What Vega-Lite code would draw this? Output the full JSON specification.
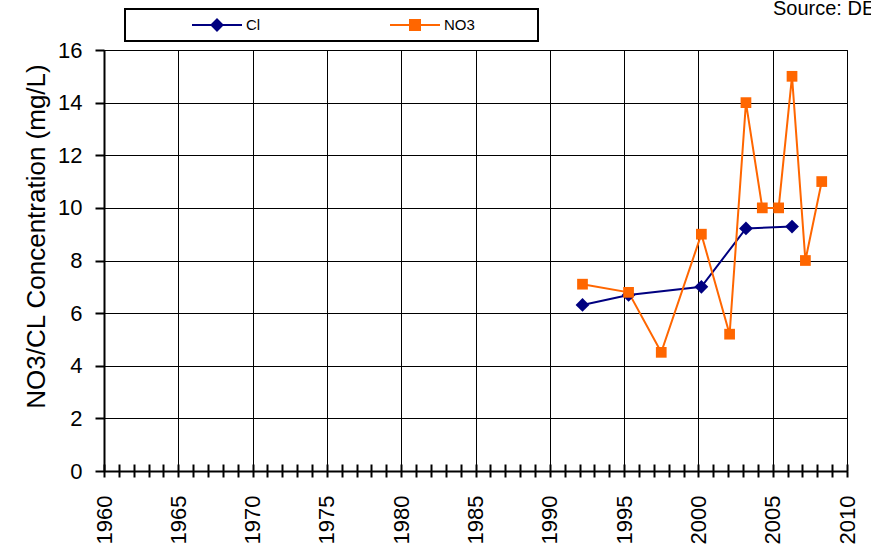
{
  "$schema": "https://vega.github.io/schema/vega-lite/v6.json",
  "width": 743,
  "height": 421,
  "autosize": {"type": "none"},
  "padding": {"left": 104, "top": 50, "right": 24, "bottom": 78},
  "background": "white",
  "config": {"view": {"stroke": "black", "strokeWidth": 1}, "font": "Liberation Sans"},
  "title": {"text": "Source: DEP", "anchor": "start", "frame": "group", "dx": 669, "offset": 0, "dy": 27, "baseline": "alphabetic", "fontSize": 20, "fontWeight": "normal", "color": "black", "font": "Liberation Sans"},
  "data": {"values": [
    {"series": "Cl", "year": 1992.2, "value": 6.31},
    {"series": "Cl", "year": 1995.3, "value": 6.69},
    {"series": "Cl", "year": 2000.2, "value": 7.0},
    {"series": "Cl", "year": 2003.2, "value": 9.22},
    {"series": "Cl", "year": 2006.3, "value": 9.29},
    {"series": "NO3", "year": 1992.2, "value": 7.1},
    {"series": "NO3", "year": 1995.3, "value": 6.79},
    {"series": "NO3", "year": 1997.5, "value": 4.51},
    {"series": "NO3", "year": 2000.2, "value": 9.0},
    {"series": "NO3", "year": 2002.1, "value": 5.2},
    {"series": "NO3", "year": 2003.2, "value": 14.0},
    {"series": "NO3", "year": 2004.3, "value": 10.0},
    {"series": "NO3", "year": 2005.4, "value": 10.0},
    {"series": "NO3", "year": 2006.3, "value": 15.0},
    {"series": "NO3", "year": 2007.2, "value": 8.0},
    {"series": "NO3", "year": 2008.3, "value": 11.0}
  ]},
  "encoding": {
    "y": {
      "field": "value", "type": "quantitative",
      "scale": {"domain": [0, 16], "nice": false},
      "axis": {
        "title": "NO3/CL Concentration (mg/L)",
        "values": [0, 2, 4, 6, 8, 10, 12, 14, 16],
        "grid": true, "gridColor": "black", "gridWidth": 1,
        "tickSize": 9, "tickColor": "black", "tickWidth": 2,
        "labelFontSize": 22, "labelPadding": 13, "labelColor": "black", "labelFont": "Liberation Sans",
        "titleFontSize": 26, "titleFontWeight": "normal", "titleColor": "black", "titleFont": "Liberation Sans", "titlePadding": 8, "titleY": 186,
        "domainColor": "black", "domainWidth": 2
      }
    },
    "color": {
      "field": "series", "type": "nominal",
      "scale": {"domain": ["Cl", "NO3"], "range": ["#000080", "#FF6600"]},
      "legend": {
        "orient": "none", "legendX": 21, "legendY": -41, "direction": "horizontal",
        "title": " ", "titleOrient": "right", "titlePadding": 57, "titleFontSize": 11,
        "padding": 6, "symbolSize": 2500, "symbolStrokeWidth": 2, "symbolOffset": 60,
        "labelOffset": 3, "labelFontSize": 15, "labelFont": "Liberation Sans", "labelColor": "black",
        "columnPadding": 68, "clipHeight": 20,
        "strokeColor": "black", "fillColor": "white",
        "symbolType": "M-1,0H1",
        "encode": {
          "legend": {"update": {"strokeWidth": {"value": 2}}},
          "labels": {"update": {"fontSize": {"value": 15}, "fill": {"value": "black"}}},
          "symbols": {"update": {
            "shape": {"signal": "datum.value === 'Cl' ? 'M-1,0H1M-0.22,0L0,-0.22L0.22,0L0,0.22Z' : 'M-1,0H1M-0.2,-0.2H0.2V0.2H-0.2Z'"},
            "fill": {"signal": "datum.value === 'Cl' ? '#000080' : '#FF6600'"},
            "stroke": {"signal": "datum.value === 'Cl' ? '#000080' : '#FF6600'"},
            "strokeWidth": {"value": 2},
            "opacity": {"value": 1},
            "fillOpacity": {"value": 1},
            "strokeOpacity": {"value": 1}
          }}
        }
      }
    }
  },
  "layer": [
    {
      "mark": {"type": "line", "strokeWidth": 2},
      "encoding": {
        "x": {
          "field": "year", "type": "quantitative",
          "scale": {"domain": [1960, 2010], "nice": false, "zero": false},
          "axis": {
            "orient": "bottom", "title": null,
            "values": [1960,1961,1962,1963,1964,1965,1966,1967,1968,1969,1970,1971,1972,1973,1974,1975,1976,1977,1978,1979,1980,1981,1982,1983,1984,1985,1986,1987,1988,1989,1990,1991,1992,1993,1994,1995,1996,1997,1998,1999,2000,2001,2002,2003,2004,2005,2006,2007,2008,2009,2010],
            "labelExpr": "datum.value % 5 === 0 ? datum.label : ''",
            "format": "d",
            "labelAngle": -90, "labelFontSize": 22, "labelColor": "black", "labelPadding": 18, "labelFont": "Liberation Sans",
            "tickSize": 6, "tickColor": "black", "tickWidth": 2,
            "grid": true, "gridColor": "black", "gridWidth": 1,
            "gridOpacity": {"condition": {"test": "datum.value % 5 === 0", "value": 1}, "value": 0},
            "domainColor": "black", "domainWidth": 2
          }
        }
      }
    },
    {
      "transform": [{"filter": "datum.series === 'Cl'"}],
      "mark": {"type": "point", "shape": "diamond", "size": 190, "filled": true, "opacity": 1},
      "encoding": {
        "x": {"field": "year", "type": "quantitative", "axis": null}
      }
    },
    {
      "transform": [{"filter": "datum.series === 'NO3'"}],
      "mark": {"type": "point", "shape": "square", "size": 115, "filled": true, "opacity": 1},
      "encoding": {
        "x": {
          "field": "year", "type": "quantitative",
          "axis": {
            "orient": "bottom", "title": null,
            "values": [1960,1961,1962,1963,1964,1965,1966,1967,1968,1969,1970,1971,1972,1973,1974,1975,1976,1977,1978,1979,1980,1981,1982,1983,1984,1985,1986,1987,1988,1989,1990,1991,1992,1993,1994,1995,1996,1997,1998,1999,2000,2001,2002,2003,2004,2005,2006,2007,2008,2009,2010],
            "labels": false, "grid": false, "domain": false,
            "tickSize": -7, "tickColor": "black", "tickWidth": 2
          }
        }
      }
    }
  ],
  "resolve": {"axis": {"x": "independent"}}
}
